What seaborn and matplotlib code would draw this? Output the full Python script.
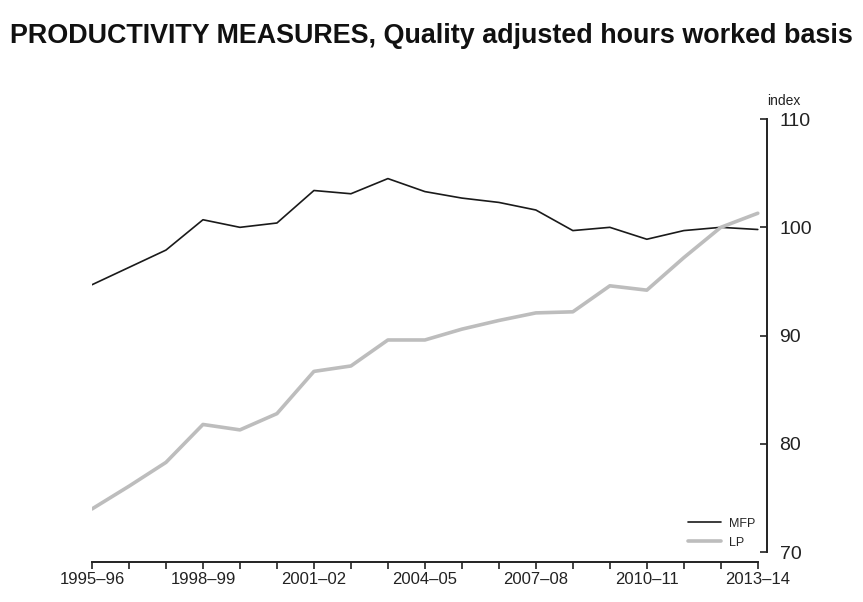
import pandas as pd
import matplotlib.pyplot as plt
import seaborn as sns

# Data
years = ["1995-96", "1996-97", "1997-98", "1998-99", "1999-00", "2000-01",
         "2001-02", "2002-03", "2003-04", "2004-05", "2005-06", "2006-07",
         "2007-08", "2008-09", "2009-10", "2010-11", "2011-12", "2012-13",
         "2013-14"]
mfp = [94.7, 96.3, 97.9, 100.7, 100.0, 100.4, 103.4, 103.1, 104.5, 103.3,
       102.7, 102.3, 101.6, 99.7, 100.0, 98.9, 99.7, 100.0, 99.8]
lp = [74.0, 76.1, 78.3, 81.8, 81.3, 82.8, 86.7, 87.2, 89.6, 89.6,
      90.6, 91.4, 92.1, 92.2, 94.6, 94.2, 97.2, 100.0, 101.3]
y_ticks = [70, 80, 90, 100, 110]

df = pd.DataFrame({"pos": range(len(years)), "year": years, "MFP": mfp, "LP": lp})

sns.set_style("white")
plt.rcParams["font.family"] = ["Liberation Sans", "DejaVu Sans"]

fig = plt.figure(figsize=(8.63, 6.02), dpi=100)
ax = fig.add_axes([0.1066, 0.0664, 0.7822, 0.7359])

sns.lineplot(data=df, x="pos", y="MFP", color="#1a1a1a", linewidth=1.2,
             label="MFP", ax=ax)
sns.lineplot(data=df, x="pos", y="LP", color="#bdbdbd", linewidth=2.6,
             label="LP", ax=ax)

ax.set_xlim(0, 18.25)
ax.set_ylim(69.1, 110)

# right-hand axis only
ax.yaxis.tick_right()
ax.spines["left"].set_visible(False)
ax.spines["top"].set_visible(False)
ax.spines["right"].set_bounds(70, 110)
ax.spines["bottom"].set_bounds(0, 18)
for s in ["right", "bottom"]:
    ax.spines[s].set_color("#222222")
    ax.spines[s].set_linewidth(1.4)

ax.set_yticks(y_ticks)
ax.tick_params(axis="y", direction="in", length=5, width=1.2, pad=9,
               labelsize=14, colors="#222222", right=True, left=False)
ax.set_xticks(range(len(years)))
ax.set_xticklabels([y.replace("-", "–") if i % 3 == 0 else ""
                    for i, y in enumerate(years)])
ax.tick_params(axis="x", direction="out", length=5, width=1.2, pad=2,
               labelsize=12, colors="#222222", bottom=True)
ax.set_xlabel("")
ax.set_ylabel("")

ax.text(1.0, 1.025, "index", transform=ax.transAxes, fontsize=10,
        ha="left", va="bottom", color="#222222")

ax.legend(loc="lower right", bbox_to_anchor=(1.0, 0.005), frameon=False,
          fontsize=9, handlelength=2.6, labelspacing=0.55, handletextpad=0.7)

fig.text(0.012, 0.94, "PRODUCTIVITY MEASURES, Quality adjusted hours worked basis",
         fontsize=19.4, fontweight="bold", ha="left", va="center", color="#111111")

fig.savefig("out.png", dpi=100)
